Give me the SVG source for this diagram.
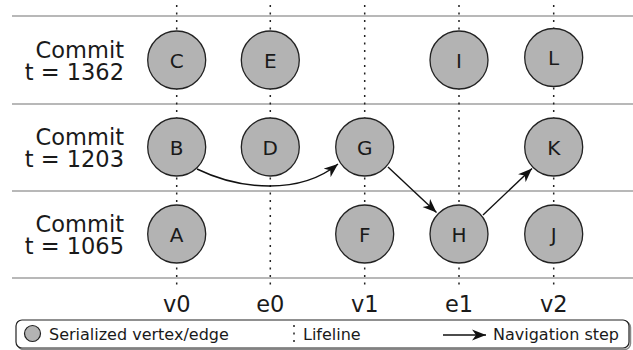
<svg xmlns="http://www.w3.org/2000/svg" width="633" height="350" viewBox="0 0 633 350">
<style>
.sep{stroke:#a0a0a0;stroke-width:1.5;fill:none}
.life{stroke:#222;stroke-width:1.5;stroke-dasharray:2 5.5;fill:none}
.node circle{fill:#b3b3b3;stroke:#222;stroke-width:1.3}
.node text{font-family:"DejaVu Sans",sans-serif;font-size:20px;fill:#1a1a1a;text-anchor:middle}
.lbl{font-family:"DejaVu Sans",sans-serif;font-size:22.5px;fill:#1a1a1a}
.leg{font-family:"DejaVu Sans",sans-serif;font-size:16px;fill:#1a1a1a}
.conn{stroke:#111;stroke-width:1.4;fill:none;marker-end:url(#ah)}
</style>
<defs>
<marker id="ah" viewBox="-14 -6 16 12" refX="0" refY="0" markerWidth="16" markerHeight="12" markerUnits="userSpaceOnUse" orient="auto">
<path d="M0,0 L-14,-5.5 L-10,0 L-14,5.5 Z" fill="#111"/>
</marker>
</defs>
<rect width="633" height="350" fill="#fff"/>
<g id="rows">
<line class="sep" x1="12" y1="16" x2="633" y2="16"/>
<line class="sep" x1="12" y1="104" x2="633" y2="104"/>
<line class="sep" x1="12" y1="191" x2="633" y2="191"/>
<line class="sep" x1="12" y1="278" x2="633" y2="278"/>
</g>
<g id="lifelines">
<line class="life" x1="176.7" y1="5" x2="176.7" y2="290"/>
<line class="life" x1="270.3" y1="5" x2="270.3" y2="290"/>
<line class="life" x1="364.7" y1="5" x2="364.7" y2="290"/>
<line class="life" x1="459" y1="5" x2="459" y2="290"/>
<line class="life" x1="553.7" y1="5" x2="553.7" y2="290"/>
</g>
<g id="row-labels" class="lbl" text-anchor="end">
<text x="124" y="57.5">Commit</text>
<text x="124" y="80">t = 1362</text>
<text x="124" y="144.5">Commit</text>
<text x="124" y="167">t = 1203</text>
<text x="124" y="231.5">Commit</text>
<text x="124" y="254">t = 1065</text>
</g>
<g id="axis-labels" class="lbl" text-anchor="middle">
<text x="176.7" y="312">v0</text>
<text x="270.3" y="312">e0</text>
<text x="364.7" y="312">v1</text>
<text x="459" y="312">e1</text>
<text x="553.7" y="312">v2</text>
</g>
<g id="node-C" class="node"><circle cx="176.7" cy="60" r="29"/><text x="176.7" y="67.5">C</text></g>
<g id="node-E" class="node"><circle cx="270.3" cy="60" r="29"/><text x="270.3" y="67.5">E</text></g>
<g id="node-I" class="node"><circle cx="459" cy="60" r="29"/><text x="459" y="67.5">I</text></g>
<g id="node-L" class="node"><circle cx="553.7" cy="57.5" r="29"/><text x="553.7" y="65">L</text></g>
<g id="node-B" class="node"><circle cx="176.7" cy="147" r="29"/><text x="176.7" y="154.5">B</text></g>
<g id="node-D" class="node"><circle cx="270.3" cy="147" r="29"/><text x="270.3" y="154.5">D</text></g>
<g id="node-G" class="node"><circle cx="364.7" cy="147" r="29"/><text x="364.7" y="154.5">G</text></g>
<g id="node-K" class="node"><circle cx="553.7" cy="147" r="29"/><text x="553.7" y="154.5">K</text></g>
<g id="node-A" class="node"><circle cx="176.7" cy="234" r="29"/><text x="176.7" y="241.5">A</text></g>
<g id="node-F" class="node"><circle cx="364.7" cy="234" r="29"/><text x="364.7" y="241.5">F</text></g>
<g id="node-H" class="node"><circle cx="459" cy="234" r="29"/><text x="459" y="241.5">H</text></g>
<g id="node-J" class="node"><circle cx="553.7" cy="234" r="29"/><text x="553.7" y="241.5">J</text></g>
<g id="connectors">
<path class="conn" d="M197,169 C240,190 300,195 338,164"/>
<path class="conn" d="M388,167 L436.5,212.5"/>
<path class="conn" d="M483,215 L532,168.5"/>
</g>
<g id="legend">
<rect x="17.5" y="321.5" width="613" height="28" rx="6" fill="none" stroke="#888" stroke-width="1.5"/>
<rect x="16" y="320" width="613" height="28" rx="6" fill="#fff" stroke="#222" stroke-width="1.2"/>
<circle cx="32.5" cy="333.5" r="8" fill="#b3b3b3" stroke="#222" stroke-width="1.2"/>
<text class="leg" x="49" y="339.5">Serialized vertex/edge</text>
<line class="life" x1="294" y1="325" x2="294" y2="346" stroke-width="1.2" stroke-dasharray="2 4"/>
<text class="leg" x="303" y="339.5">Lifeline</text>
<path class="conn" d="M443,335 L486,335"/>
<text class="leg" x="493" y="339.5">Navigation step</text>
</g>
</svg>
